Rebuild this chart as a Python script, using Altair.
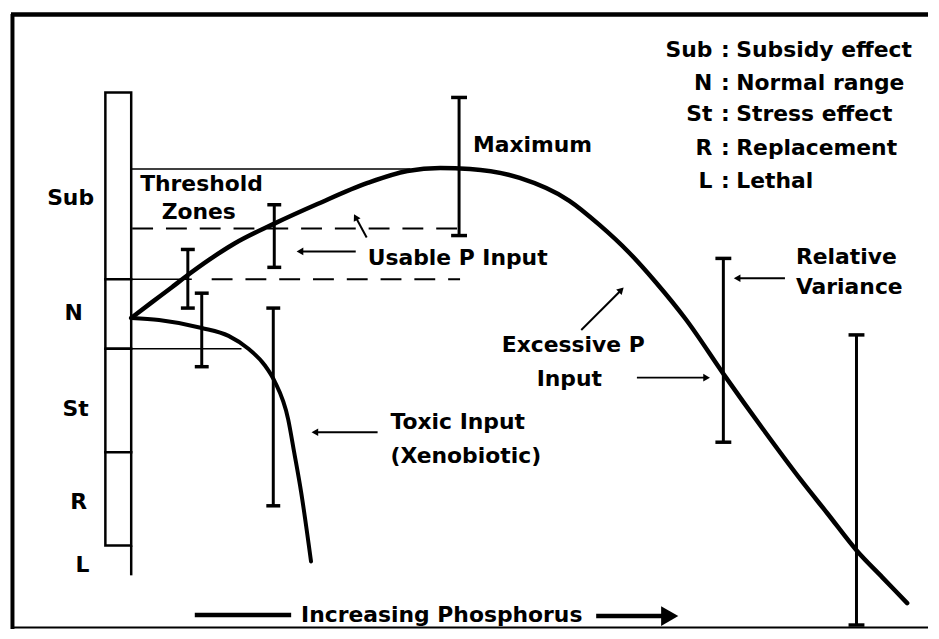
import altair as alt
import pandas as pd
import numpy as np

# ---------------- data (in picture units) ----------------
# main response curve to phosphorus (subsidy -> maximum -> stress)
main_x = [129, 150, 170, 183, 208, 233, 273, 317, 367, 407, 440, 470, 520, 570, 600, 630, 657, 687, 727, 765, 803, 830, 860, 885, 910]
main_y = [318, 302, 287, 277, 259, 243, 223, 203, 182, 170, 167, 168, 177, 200, 224, 252, 282, 319, 377, 430, 481, 515, 553, 579, 605]

# toxic (xenobiotic) input curve
tox_x = [129, 157, 200, 227, 247, 263, 273, 287, 293, 300, 310]
tox_y = [318, 320, 328, 336, 349, 365, 381, 420, 453, 493, 563]

# relative variance bars
eb_x = [186, 200, 273, 272, 459, 725, 859]
eb_lo = [249, 293, 204, 308, 96, 258, 335]
eb_hi = [308, 367, 267, 507, 235, 443, 627]
eb_cap = [7, 7, 7, 7, 8, 8, 8]

# response scale bar (zones)
zone_labels = ["Sub", "N", "St", "R", "L"]
zone_top = [91, 279, 349, 453]
zone_bottom = [279, 349, 453, 547]
zone_label_x = [68, 71, 73, 76, 80]
zone_label_y = [197, 313, 410, 503, 567]

# legend
legend_keys = ["Sub", "N", "St", "R", "L"]
legend_desc = ["Subsidy effect", "Normal range", "Stress effect", "Replacement", "Lethal"]
legend_y = [48, 81, 113, 147, 180]

# threshold / reference lines
solid_x1 = [129, 129, 129]
solid_x2 = [410, 190, 240]
solid_y = [168, 279, 349]
dash_x1 = [130, 210]
dash_x2 = [460, 460]
dash_y = [228, 279]

# annotation texts
left_texts = ["Maximum", "Threshold", "Usable P Input", "Relative", "Variance",
              "Excessive P", "Toxic Input", "(Xenobiotic)", "Increasing Phosphorus"]
left_x = [473, 138, 367, 798, 798, 502, 390, 390, 300]
left_y = [144, 183, 258, 257, 287, 345, 423, 457, 617]
center_texts = ["Zones", "Input"]
center_x = [197, 570]
center_y = [211, 379]

# small arrows (tail -> tip)
arr_tail_x = [355, 366, 582, 638, 787, 377]
arr_tail_y = [251, 237, 330, 378, 278, 433]
arr_tip_x = [295, 353, 625, 712, 735, 310]
arr_tip_y = [251, 213, 287, 378, 278, 433]

# big "Increasing Phosphorus" arrow
big_x1 = [193, 597]
big_x2 = [290, 664]
big_y = [617, 618]
big_tip_x = [681]
big_tip_y = [618]

# ---------------- chart ----------------
FONT = "DejaVu Sans"
FS = 22
xs = alt.Scale(domain=[8, 931], nice=False, zero=False)
ys = alt.Scale(domain=[8, 631], nice=False, zero=False, reverse=True)


def X(f="x"):
    return alt.X(f"{f}:Q", scale=xs, axis=None)


def Y(f="y"):
    return alt.Y(f"{f}:Q", scale=ys, axis=None)


layers = []

# frame
frame = pd.DataFrame({"x": [8, 9.5, 8], "x2": [931, 9.5, 931],
                      "y": [12.5, 12, 629.5], "y2": [12.5, 631, 629.5],
                      "w": [4.5, 4, 2]})
layers.append(alt.Chart(frame).mark_rule(color="black").encode(
    x=X(), x2="x2:Q", y=Y(), y2="y2:Q", strokeWidth=alt.StrokeWidth("w:Q", scale=None)))

# zone boxes
zones = pd.DataFrame({"x": 103, "x2": 129, "y": zone_top, "y2": zone_bottom})
layers.append(alt.Chart(zones).mark_rect(fill="white", stroke="black", strokeWidth=2.5).encode(
    x=X(), x2="x2:Q", y=Y(), y2="y2:Q"))
tail = pd.DataFrame({"x": [129], "y": [547], "y2": [577]})
layers.append(alt.Chart(tail).mark_rule(color="black", strokeWidth=2.5).encode(x=X(), y=Y(), y2="y2:Q"))

# zone labels
zl = pd.DataFrame({"t": zone_labels, "x": zone_label_x, "y": zone_label_y})
layers.append(alt.Chart(zl).mark_text(font=FONT, fontSize=FS, fontWeight="bold", align="center",
                                      baseline="middle", color="black").encode(x=X(), y=Y(), text="t:N"))

# solid and dashed reference lines
sl = pd.DataFrame({"x": solid_x1, "x2": solid_x2, "y": solid_y})
layers.append(alt.Chart(sl).mark_rule(color="black", strokeWidth=1.6).encode(x=X(), x2="x2:Q", y=Y()))
dl = pd.DataFrame({"x": dash_x1, "x2": dash_x2, "y": dash_y})
layers.append(alt.Chart(dl).mark_rule(color="black", strokeWidth=2, strokeDash=[21, 13]).encode(
    x=X(), x2="x2:Q", y=Y()))

# curves
mc = pd.DataFrame({"x": main_x, "y": main_y})
layers.append(alt.Chart(mc).mark_line(color="black", strokeWidth=4.5, interpolate="monotone",
                                      strokeCap="round").encode(x=X(), y=Y()))
tc = pd.DataFrame({"x": tox_x, "y": tox_y})
layers.append(alt.Chart(tc).mark_line(color="black", strokeWidth=4, interpolate="monotone",
                                      strokeCap="round").encode(x=X(), y=Y()))

# variance bars
eb = pd.DataFrame({"x": eb_x, "y": eb_lo, "y2": eb_hi, "c": eb_cap})
layers.append(alt.Chart(eb).mark_rule(color="black", strokeWidth=3).encode(x=X(), y=Y(), y2="y2:Q"))
caps = pd.DataFrame({
    "x": list(np.array(eb_x) - np.array(eb_cap)) * 2,
    "x2": list(np.array(eb_x) + np.array(eb_cap)) * 2,
    "y": eb_lo + eb_hi,
})
layers.append(alt.Chart(caps).mark_rule(color="black", strokeWidth=3.5).encode(x=X(), x2="x2:Q", y=Y()))

# arrows
dx = np.array(arr_tip_x, float) - np.array(arr_tail_x, float)
dy = np.array(arr_tip_y, float) - np.array(arr_tail_y, float)
ln = np.hypot(dx, dy)
ux, uy = dx / ln, dy / ln
head_size = 60
r = np.sqrt(head_size) / 2
ang = (np.degrees(np.arctan2(dx, -dy)) + 360) % 360
arr_lines = pd.DataFrame({"x": arr_tail_x, "y": arr_tail_y,
                          "x2": np.array(arr_tip_x) - ux * r, "y2": np.array(arr_tip_y) - uy * r})
layers.append(alt.Chart(arr_lines).mark_rule(color="black", strokeWidth=2).encode(
    x=X(), y=Y(), x2="x2:Q", y2="y2:Q"))
heads = pd.DataFrame({"x": np.array(arr_tip_x) - ux * r, "y": np.array(arr_tip_y) - uy * r, "a": ang})
layers.append(alt.Chart(heads).mark_point(shape="triangle-up", filled=True, color="black", opacity=1,
                                          size=head_size).encode(
    x=X(), y=Y(), angle=alt.Angle("a:Q", scale=None)))

# big arrow
bl = pd.DataFrame({"x": big_x1, "x2": big_x2, "y": big_y})
layers.append(alt.Chart(bl).mark_rule(color="black", strokeWidth=4.5).encode(x=X(), x2="x2:Q", y=Y()))
bh = pd.DataFrame({"x": np.array(big_tip_x) - 10, "y": big_tip_y})
layers.append(alt.Chart(bh).mark_point(shape="triangle-right", filled=True, color="black", opacity=1,
                                       size=400).encode(x=X(), y=Y()))

# texts
lt = pd.DataFrame({"t": left_texts, "x": left_x, "y": left_y})
layers.append(alt.Chart(lt).mark_text(font=FONT, fontSize=FS, fontWeight="bold", align="left",
                                      baseline="middle", color="black").encode(x=X(), y=Y(), text="t:N"))
ct = pd.DataFrame({"t": center_texts, "x": center_x, "y": center_y})
layers.append(alt.Chart(ct).mark_text(font=FONT, fontSize=FS, fontWeight="bold", align="center",
                                      baseline="middle", color="black").encode(x=X(), y=Y(), text="t:N"))

# legend
lk = pd.DataFrame({"t": legend_keys, "x": 714, "y": legend_y})
layers.append(alt.Chart(lk).mark_text(font=FONT, fontSize=FS, fontWeight="bold", align="right",
                                      baseline="middle", color="black").encode(x=X(), y=Y(), text="t:N"))
lc = pd.DataFrame({"t": [":"] * 5, "x": 727, "y": legend_y})
layers.append(alt.Chart(lc).mark_text(font=FONT, fontSize=FS, fontWeight="bold", align="center",
                                      baseline="middle", color="black").encode(x=X(), y=Y(), text="t:N"))
ld = pd.DataFrame({"t": legend_desc, "x": 738, "y": legend_y})
layers.append(alt.Chart(ld).mark_text(font=FONT, fontSize=FS, fontWeight="bold", align="left",
                                      baseline="middle", color="black").encode(x=X(), y=Y(), text="t:N"))

chart = alt.layer(*layers).properties(width=923, height=623, padding=0, background="white").configure_view(
    stroke=None)

chart.save("out.html", embed_options={"renderer": "svg", "actions": False})
